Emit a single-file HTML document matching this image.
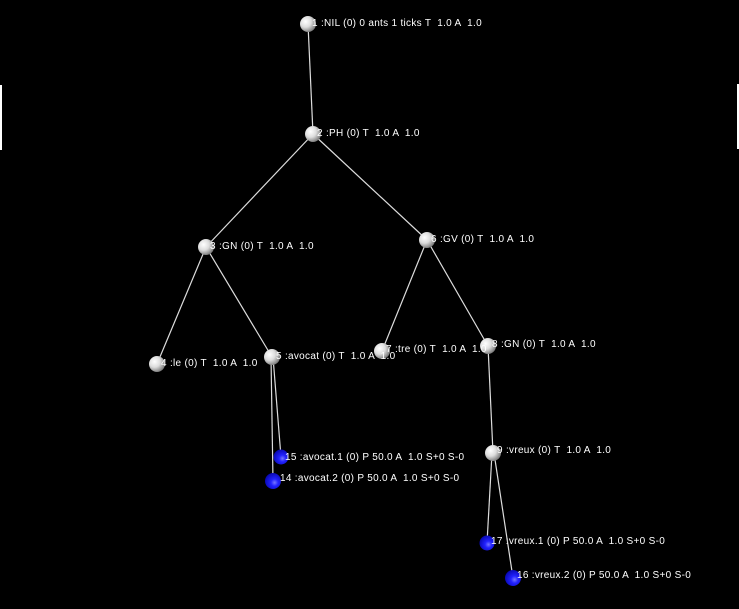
<!DOCTYPE html>
<html><head><style>
html,body{margin:0;padding:0;background:#000;width:739px;height:609px;overflow:hidden}
text{font-family:"Liberation Sans",sans-serif;font-size:10px;fill:#fff;white-space:pre;letter-spacing:0.3px}
</style></head><body>
<svg width="739" height="609" viewBox="0 0 739 609">
<defs>
<radialGradient id="w" cx="0.35" cy="0.35" r="0.7">
<stop offset="0" stop-color="#fff"/><stop offset="0.5" stop-color="#ddd"/><stop offset="1" stop-color="#777"/>
</radialGradient>
<radialGradient id="b" cx="0.6" cy="0.6" r="0.75">
<stop offset="0" stop-color="#77f"/><stop offset="0.3" stop-color="#22f"/><stop offset="1" stop-color="#009"/>
</radialGradient>
</defs>
<rect x="0" y="85" width="2" height="65" fill="#fff"/>
<rect x="737" y="84" width="2" height="65" fill="#fff"/>
<g stroke="#ddd" stroke-width="1.2">
<line x1="308" y1="24" x2="313" y2="134"/>
<line x1="313" y1="134" x2="206" y2="247"/>
<line x1="313" y1="134" x2="427" y2="240"/>
<line x1="206" y1="247" x2="157" y2="364"/>
<line x1="206" y1="247" x2="272" y2="357"/>
<line x1="427" y1="240" x2="382" y2="351"/>
<line x1="427" y1="240" x2="488" y2="346"/>
<line x1="271" y1="357" x2="273" y2="481"/>
<line x1="273" y1="357" x2="281" y2="457"/>
<line x1="488" y1="346" x2="493" y2="453"/>
<line x1="492" y1="453" x2="487" y2="543"/>
<line x1="494" y1="453" x2="513" y2="578"/>
</g>
<g fill="url(#w)">
<circle cx="308" cy="24" r="8"/>
<circle cx="313" cy="134" r="8"/>
<circle cx="206" cy="247" r="8"/>
<circle cx="427" cy="240" r="8"/>
<circle cx="157" cy="364" r="8"/>
<circle cx="272" cy="357" r="8"/>
<circle cx="382" cy="351" r="8"/>
<circle cx="488" cy="346" r="8"/>
<circle cx="493" cy="453" r="8"/>
</g>
<g fill="url(#b)">
<circle cx="281" cy="457" r="7.5"/>
<circle cx="273" cy="481" r="8"/>
<circle cx="487" cy="543" r="7.5"/>
<circle cx="513" cy="578" r="8"/>
</g>
<text x="312" y="26">1 :NIL (0) 0 ants 1 ticks T  1.0 A  1.0</text>
<text x="317" y="136">2 :PH (0) T  1.0 A  1.0</text>
<text x="210" y="249">3 :GN (0) T  1.0 A  1.0</text>
<text x="431" y="242">6 :GV (0) T  1.0 A  1.0</text>
<text x="161" y="366">4 :le (0) T  1.0 A  1.0</text>
<text x="276" y="359">5 :avocat (0) T  1.0 A  1.0</text>
<text x="386" y="352">7 :tre (0) T  1.0 A  1.0</text>
<text x="492" y="347">8 :GN (0) T  1.0 A  1.0</text>
<text x="497" y="453">9 :vreux (0) T  1.0 A  1.0</text>
<text x="285" y="460">15 :avocat.1 (0) P 50.0 A  1.0 S+0 S-0</text>
<text x="280" y="481">14 :avocat.2 (0) P 50.0 A  1.0 S+0 S-0</text>
<text x="491" y="544">17 :vreux.1 (0) P 50.0 A  1.0 S+0 S-0</text>
<text x="517" y="578">16 :vreux.2 (0) P 50.0 A  1.0 S+0 S-0</text>
</svg>
</body></html>
